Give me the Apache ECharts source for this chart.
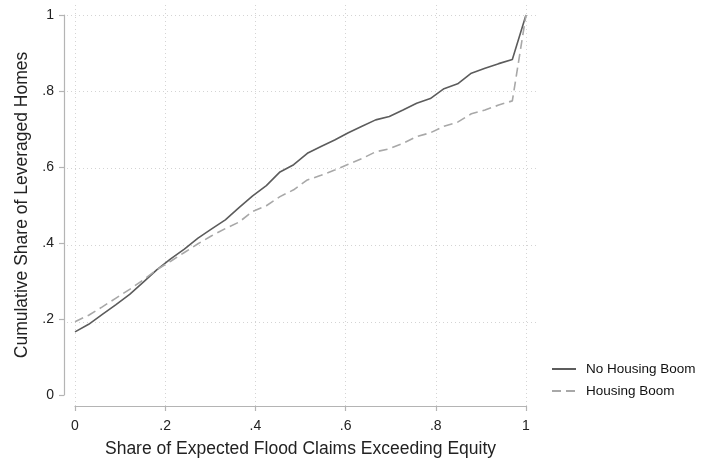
<!DOCTYPE html>
<html>
<head>
<meta charset="utf-8">
<script src="https://cdn.jsdelivr.net/npm/echarts@6/dist/echarts.min.js"></script>
<style>html,body{margin:0;padding:0;background:#fff}#c{width:701px;height:463px}</style>
</head>
<body>
<div id="c"></div>
<script>
// x positions: k/33 for k = 0..33
const xShare = Array.from({length: 34}, (_, k) => k / 33);
const noBoom = [0.166,0.186,0.212,0.238,0.265,0.297,0.330,0.358,0.384,0.413,0.437,0.461,0.493,0.524,0.551,0.587,0.606,0.636,0.654,0.671,0.690,0.707,0.724,0.733,0.750,0.768,0.780,0.806,0.819,0.847,0.860,0.872,0.883,1.0];
const boom = [0.193,0.210,0.232,0.255,0.278,0.303,0.330,0.352,0.375,0.398,0.419,0.438,0.455,0.483,0.498,0.522,0.540,0.566,0.578,0.592,0.607,0.622,0.640,0.648,0.662,0.680,0.690,0.707,0.718,0.740,0.750,0.763,0.774,1.0];
const xTicks = [0, 0.2, 0.4, 0.6, 0.8, 1];
const yTicks = [0, 0.2, 0.4, 0.6, 0.8, 1];
const yGridTicks = [0.2, 0.4, 0.6, 0.8, 1];
const seriesNames = ['No Housing Boom', 'Housing Boom'];

const fmt = v => (v === 0 ? '0' : v === 1 ? '1' : '.' + Math.round(v * 10));
const font = 'Arial, "Liberation Sans", sans-serif';
const chart = echarts.init(document.getElementById('c'), null, {renderer: 'canvas'});
const gridLine = {show: true, lineStyle: {color: '#d4d4d4', type: [1, 3], width: 1}};
const axisGray = '#b4b4b4';

chart.setOption({
  animation: false,
  backgroundColor: '#fff',
  grid: [
    {left: 67, right: 164, top: 5, bottom: 56},
    {left: 75, right: 175, top: 15, bottom: 64.5}
  ],
  legend: {
    orient: 'vertical', left: 546, top: 357, itemWidth: 24, itemHeight: 12, itemGap: 8,
    textStyle: {fontFamily: font, fontSize: 13.5, color: '#111', padding: [0, 0, 0, 5]},
    itemStyle: {opacity: 0},
    data: seriesNames
  },
  xAxis: [
    {gridIndex: 0, type: 'value', min: -8 / 451, max: 1 + 11 / 451,
     axisLine: {show: false}, axisLabel: {show: false},
     axisTick: {show: false, customValues: xTicks}, splitLine: gridLine},
    {gridIndex: 1, type: 'value', min: 0, max: 1, interval: 0.2, offset: 11, position: 'bottom',
     axisLine: {show: true, onZero: false, lineStyle: {color: axisGray, width: 1.2}},
     axisTick: {show: true, length: 5, lineStyle: {color: axisGray, width: 1.2}},
     axisLabel: {formatter: fmt, fontFamily: font, fontSize: 14, color: '#222', margin: 13},
     splitLine: {show: false},
     name: 'Share of Expected Flood Claims Exceeding Equity', nameLocation: 'middle', nameGap: 34,
     nameTextStyle: {fontFamily: font, fontSize: 17.5, color: '#222'}}
  ],
  yAxis: [
    {gridIndex: 0, type: 'value', min: -8.5 / 383.5, max: 1 + 10 / 383.5,
     axisLine: {show: false}, axisLabel: {show: false},
     axisTick: {show: false, customValues: yGridTicks}, splitLine: gridLine},
    {gridIndex: 1, type: 'value', min: 0, max: 1, interval: 0.2, offset: 11, position: 'left',
     axisLine: {show: true, onZero: false, lineStyle: {color: axisGray, width: 1.2}},
     axisTick: {show: true, length: 5, lineStyle: {color: axisGray, width: 1.2}},
     axisLabel: {formatter: fmt, fontFamily: font, fontSize: 14, color: '#222', margin: 10},
     splitLine: {show: false},
     name: 'Cumulative Share of Leveraged Homes', nameLocation: 'middle', nameGap: 26,
     nameTextStyle: {fontFamily: font, fontSize: 17.5, color: '#222'}}
  ],
  series: [
    {name: seriesNames[0], type: 'line', xAxisIndex: 1, yAxisIndex: 1, showSymbol: false, symbol: 'none',
     data: xShare.map((x, i) => [x, noBoom[i]]),
     lineStyle: {color: '#5c5c5c', width: 1.6}, itemStyle: {color: '#5c5c5c'}},
    {name: seriesNames[1], type: 'line', xAxisIndex: 1, yAxisIndex: 1, showSymbol: false, symbol: 'none',
     data: xShare.map((x, i) => [x, boom[i]]),
     lineStyle: {color: '#a8a8a8', width: 1.6, type: [9, 5]}, itemStyle: {color: '#a8a8a8'}}
  ]
});
</script>
</body>
</html>
